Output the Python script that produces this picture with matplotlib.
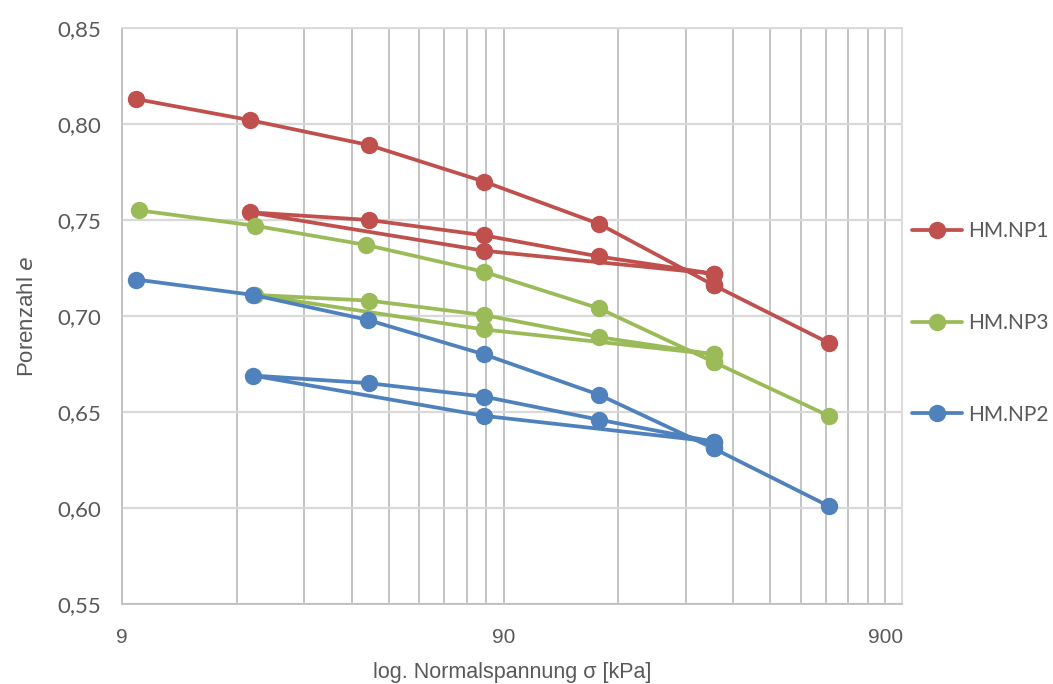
import numpy as np
import matplotlib
matplotlib.use("Agg")
import matplotlib.pyplot as plt
from matplotlib.ticker import FixedLocator, NullFormatter, FuncFormatter

# Oedometer curves (load, unload, reload) - x in kPa, e = void ratio
red_x = [9.8, 19.5, 40, 80, 160, 320, 320, 160, 80, 40, 19.5, 80, 320, 320, 640]
red_e = [0.813, 0.802, 0.789, 0.770, 0.748, 0.716, 0.722, 0.731, 0.742, 0.750, 0.754, 0.734, 0.722, 0.716, 0.686]

green_x = [10.0, 20.1, 39.3, 80, 160, 320, 320, 160, 80, 40, 20.1, 80, 320, 320, 640]
green_e = [0.755, 0.747, 0.737, 0.723, 0.704, 0.676, 0.680, 0.689, 0.7005, 0.708, 0.711, 0.693, 0.680, 0.676, 0.648]

blue_x = [9.8, 19.8, 39.6, 80, 160, 320, 320, 160, 80, 40, 19.8, 80, 320, 320, 640]
blue_e = [0.719, 0.711, 0.698, 0.680, 0.659, 0.631, 0.6345, 0.646, 0.658, 0.665, 0.669, 0.648, 0.6345, 0.631, 0.601]

labels = ["HM.NP1", "HM.NP3", "HM.NP2"]
colors = ["#C0504D", "#9BBB59", "#4F81BD"]

y_ticks = [0.55, 0.60, 0.65, 0.70, 0.75, 0.80, 0.85]
x_major = [9, 90, 900]

narrow = ["Liberation Sans Narrow", "Liberation Sans", "DejaVu Sans"]
roundish = ["Lato", "DejaVu Sans"]

fig = plt.figure(figsize=(10.53, 6.84), dpi=100)
ax = fig.add_axes([122 / 1053, 1 - 604 / 684, 780 / 1053, 576 / 684])

for xs, es, lab, col in zip([red_x, green_x, blue_x], [red_e, green_e, blue_e], labels, colors):
    ax.plot(xs, es, color=col, lw=2.7, marker="o", markersize=11.5, label=lab,
            solid_joinstyle="round", solid_capstyle="round")

ax.set_xscale("log")
ax.set_xlim(9, 996)
ax.set_ylim(0.55, 0.85)

minor = [9 * k for k in range(2, 10)] + [90 * k for k in range(2, 10)]
ax.xaxis.set_major_locator(FixedLocator(x_major))
ax.xaxis.set_minor_locator(FixedLocator(minor))
ax.xaxis.set_minor_formatter(NullFormatter())
ax.xaxis.set_major_formatter(FuncFormatter(lambda v, p: f"{v:g}"))
ax.set_yticks(y_ticks)
ax.yaxis.set_major_formatter(FuncFormatter(lambda v, p: f"{v:.2f}".replace(".", ",")))

ax.grid(True, axis="x", which="both", color="#BFBFBF", lw=1.3)
ax.grid(True, axis="y", which="major", color="#D9D9D9", lw=1.6)
ax.set_axisbelow(True)
ax.tick_params(which="both", length=0)
ax.tick_params(axis="y", pad=15, labelsize=16, labelcolor="#595959")
ax.tick_params(axis="x", pad=17, labelsize=15, labelcolor="#595959")
for lbl in ax.get_yticklabels():
    lbl.set_family(roundish)
for lbl in ax.get_xticklabels():
    lbl.set_family(narrow)

for s in ax.spines.values():
    s.set_color("#D9D9D9")
    s.set_linewidth(1.3)
ax.spines["left"].set_color("#BFBFBF")
ax.spines["bottom"].set_color("#BFBFBF")

ax.set_xlabel("log. Normalspannung σ [kPa]", fontsize=15.5, color="#595959",
              family=narrow, labelpad=11)
ax.set_ylabel("Porenzahl $\\it{e}$", fontsize=16, color="#595959",
              family=narrow, labelpad=14)

leg = ax.legend(loc="center left", bbox_to_anchor=(1.002, 0.488),
                frameon=False, labelspacing=3.45, handlelength=2.4,
                handletextpad=0.3, borderaxespad=0.0, labelcolor="#595959",
                prop={"family": roundish, "size": 15})

fig.savefig("out.png", dpi=100)
